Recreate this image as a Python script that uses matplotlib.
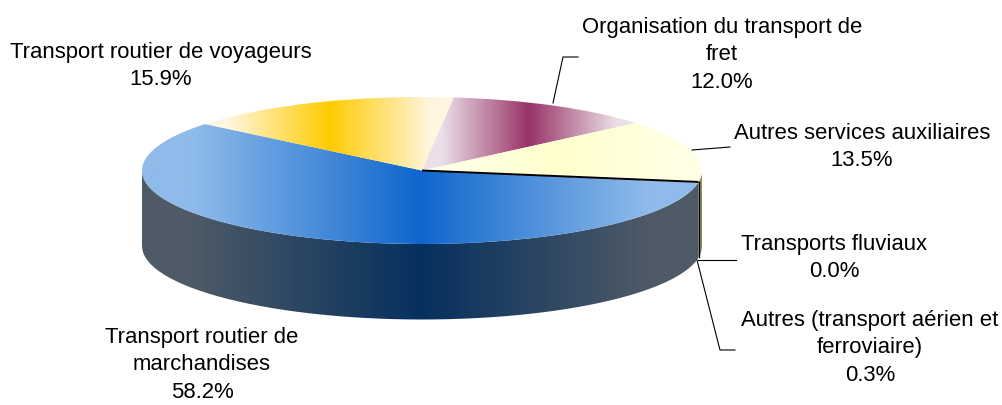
import numpy as np
import matplotlib
matplotlib.use("Agg")
import matplotlib.pyplot as plt
from matplotlib.colors import to_rgb
from matplotlib.patches import Wedge, PathPatch
from matplotlib.path import Path
from matplotlib.transforms import Affine2D

plt.rcParams['font.family'] = ['Liberation Sans', 'DejaVu Sans']

# values clockwise from the big blue slice
names = ["Transport routier de\nmarchandises", "Transport routier de voyageurs",
         "Organisation du transport de\nfret", "Autres services auxiliaires",
         "Transports fluviaux", "Autres (transport aérien et\nferroviaire)"]
shares = [58.2, 15.9, 12.0, 13.5, 0.0, 0.3]

edge_colors = ["#8FBBEA", "#FFF6DF", "#EBDFE8", "#FFFFE6", "#FFFFFF", "#FFFFFF"]
mid_colors = ["#0F66CC", "#FFCC00", "#993366", "#FFFFCC", "#FFFFFF", "#FFFFFF"]
side_edge = ["#4E5A66", "#8F8F6B", "#8F8F6B", "#8F8F6B", "#8F8F6B", "#8F8F6B"]
side_mid = ["#05305F", "#8F8F6B", "#8F8F6B", "#8F8F6B", "#8F8F6B", "#8F8F6B"]

label_x = [202, 161, 722, 862, 834, 870]
label_y = [365, 66, 55, 147, 258, 348]

# pie geometry, pixels with y going up
W, H = 1002, 405
cx, cy = 422, H - 170.5
rx, ry = 280, 73.5
depth = 75.5
start = -9.5
flat_from = 0.82  # gradient stays at the edge colour past this part of the width


def gradient(ax, clip, x0, x1, y0, y1, c_edge, c_mid):
    t = np.clip(np.abs(np.linspace(-1, 1, 256)) / flat_from, 0, 1)
    a = np.array(to_rgb(c_edge))
    b = np.array(to_rgb(c_mid))
    img = (t[:, None] * a + (1 - t)[:, None] * b)[None, :, :]
    im = ax.imshow(img, extent=(x0, x1, y0, y1), aspect='auto', zorder=clip.get_zorder())
    im.set_clip_path(clip)


def side_path(theta1, theta2):
    th = np.radians(np.linspace(theta1, theta2, 60))
    x = cx + rx * np.cos(th)
    y = cy + ry * np.sin(th)
    return Path(np.r_[np.c_[x, y], np.c_[x[::-1], y[::-1] - depth], [[x[0], y[0]]]])


fig = plt.figure(figsize=(W / 100, H / 100), dpi=100)
ax = fig.add_axes([0, 0, 1, 1])

# turn shares into clockwise angles
total = sum(shares)
ends = start - np.cumsum(shares) / total * 360
begins = np.r_[start, ends[:-1]]
ell = Affine2D().scale(rx, ry).translate(cx, cy) + ax.transData

# side walls first
for i in range(len(shares)):
    # parts of the rim facing the viewer, in (-180, 0)
    th2, th1 = begins[i], ends[i]
    for shift in (0, 360):
        lo, hi = max(th1 + shift, -180), min(th2 + shift, 0)
        if hi > lo:
            p = PathPatch(side_path(lo, hi), fc='none', ec='none', zorder=1)
            ax.add_patch(p)
            x_all = cx + rx * np.cos(np.radians(np.linspace(lo, hi, 60)))
            gradient(ax, p, x_all.min(), x_all.max(), 0, H, side_edge[i], side_mid[i])

# top faces
for i in range(len(shares)):
    if shares[i] == 0:
        continue
    p = Wedge((0, 0), 1, ends[i], begins[i], transform=ell, fc='none', ec='none', zorder=2)
    ax.add_patch(p)
    th = np.radians(np.linspace(ends[i], begins[i], 200))
    xs = np.r_[cx, cx + rx * np.cos(th)]
    gradient(ax, p, xs.min(), xs.max(), 0, H, edge_colors[i], mid_colors[i])

# the thin slice shows up as black edges
th_last = np.radians((begins[5] + ends[5]) / 2)
xe, ye = cx + rx * np.cos(th_last), cy + ry * np.sin(th_last)
ax.plot([cx, xe], [cy, ye], color='black', lw=1.4, zorder=3, solid_capstyle='butt')
ax.plot([xe, xe], [ye, ye - depth], color='black', lw=1.0, zorder=3)

# leader lines
leaders = [([553, 563, 578], [103, 57, 57]), ([692, 730], [150, 147]),
           ([698, 736], [260, 260]), ([697, 720, 735], [260, 350, 350])]
for lx, ly in leaders:
    ax.plot(lx, [H - v for v in ly], color='black', lw=0.8, zorder=4)

# labels
for i in range(len(names)):
    ax.text(label_x[i], H - label_y[i], "%s\n%.1f%%" % (names[i], shares[i]), ha='center',
            va='center', fontsize=15.9, color='black', linespacing=1.42, zorder=5)

ax.set_xlim(0, W)
ax.set_ylim(0, H)
ax.axis('off')
fig.savefig("out.png", dpi=100)
